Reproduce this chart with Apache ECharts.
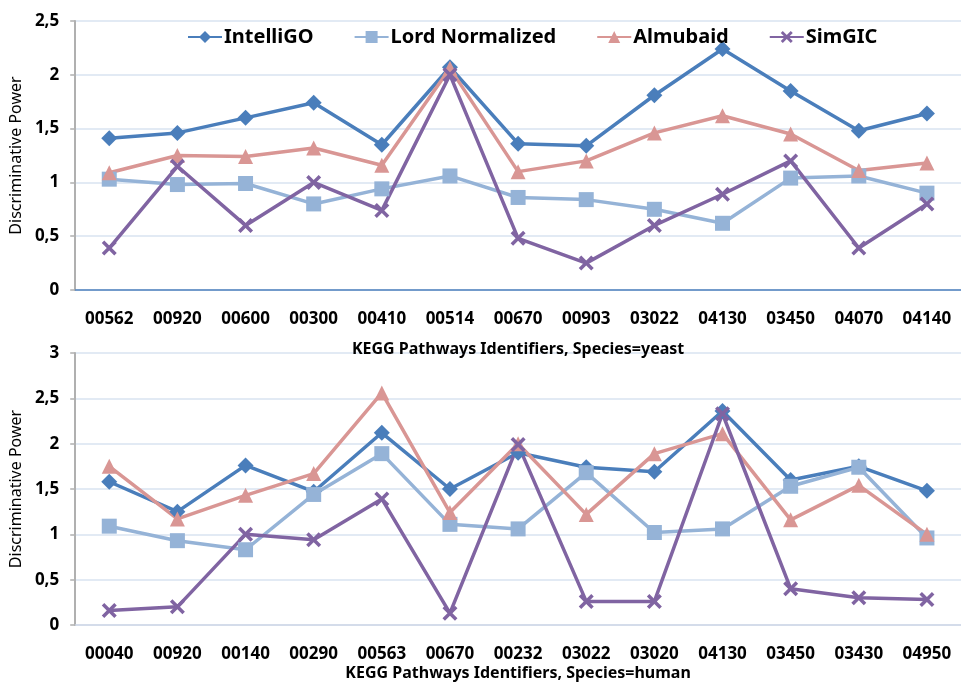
<!DOCTYPE html>
<html>
<head>
<meta charset="utf-8">
<script src="https://cdn.jsdelivr.net/npm/echarts@6/dist/echarts.min.js"></script>
<style>
html,body{margin:0;padding:0;background:#fff;}
#main{width:961px;height:682px;}
</style>
</head>
<body>
<div id="main"></div>
<script>
// ---- data ----
var seriesNames = ['IntelliGO', 'Lord Normalized', 'Almubaid', 'SimGIC'];

var yeastCategories = ['00562','00920','00600','00300','00410','00514','00670','00903','03022','04130','03450','04070','04140'];
var yeastIntelliGO = [1.41, 1.46, 1.60, 1.74, 1.35, 2.07, 1.36, 1.34, 1.81, 2.24, 1.85, 1.48, 1.64];
var yeastLord      = [1.03, 0.98, 0.99, 0.80, 0.94, 1.06, 0.86, 0.84, 0.75, 0.62, 1.04, 1.06, 0.90];
var yeastAlmubaid  = [1.09, 1.25, 1.24, 1.32, 1.16, 2.06, 1.10, 1.20, 1.46, 1.62, 1.45, 1.11, 1.18];
var yeastSimGIC    = [0.39, 1.15, 0.60, 1.00, 0.74, 2.00, 0.48, 0.25, 0.60, 0.89, 1.20, 0.39, 0.80];

var humanCategories = ['00040','00920','00140','00290','00563','00670','00232','03022','03020','04130','03450','03430','04950'];
var humanIntelliGO = [1.58, 1.25, 1.76, 1.47, 2.12, 1.50, 1.90, 1.74, 1.69, 2.36, 1.60, 1.75, 1.48];
var humanLord      = [1.09, 0.93, 0.83, 1.44, 1.89, 1.11, 1.06, 1.68, 1.02, 1.06, 1.53, 1.74, 0.96];
var humanAlmubaid  = [1.75, 1.17, 1.43, 1.67, 2.56, 1.24, 2.00, 1.22, 1.89, 2.11, 1.16, 1.54, 1.00];
var humanSimGIC    = [0.16, 0.20, 1.00, 0.94, 1.39, 0.13, 1.99, 0.26, 0.26, 2.33, 0.40, 0.30, 0.28];

var yeastAxisTitle = 'KEGG Pathways Identifiers, Species=yeast';
var humanAxisTitle = 'KEGG Pathways Identifiers, Species=human';
var yAxisTitle = 'Discriminative Power';

// ---- styles ----
var FONT = '"Noto Sans", "DejaVu Sans", sans-serif';
var colors = ['#4A7EBB', '#95B3D7', '#D99694', '#8064A2'];
var xPath = 'path://M2,0 L6,4 L10,0 L12,2 L8,6 L12,10 L10,12 L6,8 L2,12 L0,10 L4,6 L0,2 Z';
var symbols = ['diamond', 'rect', 'triangle', xPath];
var symbolSizes = [16, 15, 15, 15];

function mkSeries(name, idx, data, gridIdx) {
  return {
    name: name, type: 'line',
    xAxisIndex: gridIdx, yAxisIndex: gridIdx,
    data: data,
    symbol: symbols[idx], symbolSize: symbolSizes[idx],
    lineStyle: { color: colors[idx], width: 3.5 },
    itemStyle: { color: colors[idx] },
    emphasis: { disabled: true },
    animation: false
  };
}

function yAxisFor(gridIdx, max) {
  return {
    type: 'value', gridIndex: gridIdx, min: 0, max: max, interval: 0.5,
    name: yAxisTitle, nameLocation: 'middle', nameGap: 46, nameRotate: 90,
    nameTextStyle: { fontFamily: FONT, fontSize: 16, color: '#000' },
    axisLine: { show: true, lineStyle: { color: '#B0B0B0', width: 2 } },
    axisTick: { show: true, length: 5, lineStyle: { color: '#B0B0B0', width: 1.5 } },
    axisLabel: {
      fontFamily: FONT, fontWeight: 'bold', fontSize: 17, color: '#000', margin: 16,
      formatter: function (v) { return String(v).replace('.', ','); }
    },
    splitLine: { show: true, lineStyle: { color: '#D9E3F1', width: 1.5 } }
  };
}

function xAxisFor(gridIdx, cats, title, lineColor, labelMargin, nameGap) {
  return {
    type: 'category', gridIndex: gridIdx, data: cats, boundaryGap: true,
    name: title, nameLocation: 'middle', nameGap: nameGap,
    nameTextStyle: { fontFamily: FONT, fontWeight: 'bold', fontSize: 16, color: '#000' },
    axisLine: { show: true, lineStyle: { color: lineColor, width: 1.5 } },
    axisTick: { show: false },
    axisLabel: { fontFamily: FONT, fontWeight: 'bold', fontSize: 17, color: '#000', margin: labelMargin, interval: 0 }
  };
}

var chart = echarts.init(document.getElementById('main'), null, { renderer: 'canvas' });
chart.setOption({
  backgroundColor: '#fff',
  animation: false,
  legend: {
    data: seriesNames,
    top: 22, left: 182,
    itemWidth: 34, itemHeight: 15, itemGap: 40,
    textStyle: { fontFamily: FONT, fontWeight: 'bold', fontSize: 20, color: '#000', padding: [0,0,0,-3] }
  },
  grid: [
    { left: 72, top: 21, width: 889, height: 269 },
    { left: 72, top: 353, width: 889, height: 273 }
  ],
  xAxis: [
    xAxisFor(0, yeastCategories, yeastAxisTitle, '#4F81BD', 21, 51),
    xAxisFor(1, humanCategories, humanAxisTitle, '#CFD8E6', 21, 40)
  ],
  yAxis: [ yAxisFor(0, 2.5), yAxisFor(1, 3) ],
  series: [
    mkSeries(seriesNames[0], 0, yeastIntelliGO, 0),
    mkSeries(seriesNames[1], 1, yeastLord, 0),
    mkSeries(seriesNames[2], 2, yeastAlmubaid, 0),
    mkSeries(seriesNames[3], 3, yeastSimGIC, 0),
    mkSeries(seriesNames[0], 0, humanIntelliGO, 1),
    mkSeries(seriesNames[1], 1, humanLord, 1),
    mkSeries(seriesNames[2], 2, humanAlmubaid, 1),
    mkSeries(seriesNames[3], 3, humanSimGIC, 1)
  ]
});
</script>
</body>
</html>
